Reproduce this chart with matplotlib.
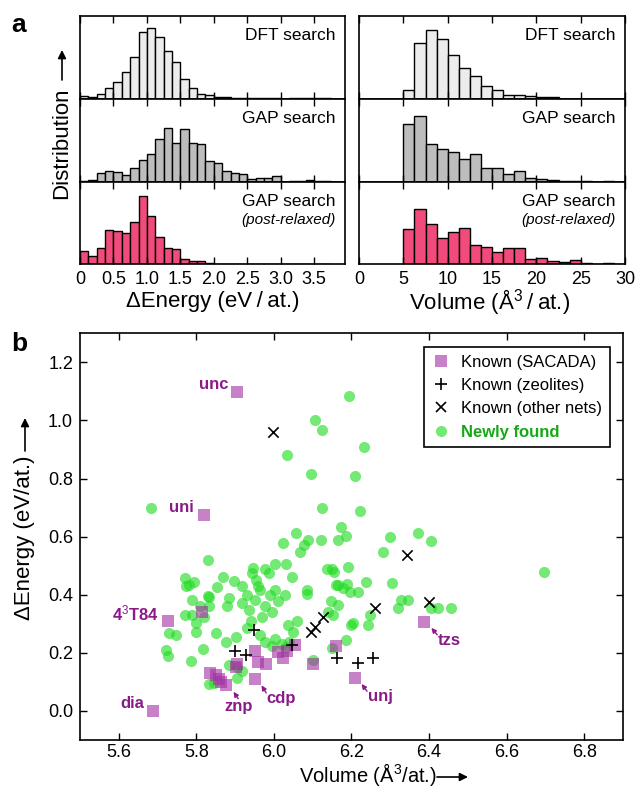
import numpy as np
import matplotlib
matplotlib.use('Agg')
import matplotlib.pyplot as plt
from matplotlib.lines import Line2D
from matplotlib.patches import FancyArrowPatch

plt.rcParams['font.family'] = ['Liberation Sans', 'DejaVu Sans']
plt.rcParams['mathtext.fontset'] = 'custom'
plt.rcParams['mathtext.rm'] = 'Liberation Sans'
plt.rcParams['mathtext.it'] = 'Liberation Sans:italic'
plt.rcParams['mathtext.bf'] = 'Liberation Sans:bold'

# ---------------- data ----------------
energy_bin_width = 0.125
energy_dft = [9, 4, 13, 31, 49, 81, 126, 200, 213, 184, 143, 111, 58, 31, 13, 11, 6, 4, 2, 1,
              1, 3, 3, 1, 0, 1, 2, 2, 1, 1]
energy_gap = [2, 5, 25, 32, 30, 20, 40, 65, 83, 127, 160, 115, 158, 117, 112, 62, 57, 32, 25, 22,
              8, 12, 10, 18, 0, 2, 2, 5, 2, 2]
energy_post = [41, 25, 48, 103, 101, 93, 128, 205, 146, 83, 48, 46, 16, 11, 11, 5, 2, 1, 1, 1,
               0, 1, 0, 1, 1, 0, 0, 0, 0, 0]

volume_start = 5.0
volume_bin_width = 1.25
volume_dft = [25, 167, 207, 180, 130, 92, 67, 39, 27, 12, 12, 7, 4, 5, 0, 0, 0, 0, 0, 0]
volume_gap = [172, 197, 112, 97, 88, 68, 83, 42, 40, 23, 32, 10, 7, 5, 3, 2, 1, 0, 1, 0]
volume_post = [105, 168, 121, 78, 98, 108, 58, 51, 38, 48, 48, 15, 18, 10, 7, 12, 4, 1, 4, 0]

row_titles = ["DFT search", "GAP search", "GAP search"]
energy_ticks = [0, 0.5, 1.0, 1.5, 2.0, 2.5, 3.0, 3.5]
energy_ticklabels = ["0", "0.5", "1.0", "1.5", "2.0", "2.5", "3.0", "3.5"]
volume_ticks = [0, 5, 10, 15, 20, 25, 30]

# scatter: (volume, dE)
sacada_vol = [5.905, 5.82, 5.728, 5.815, 5.689, 5.835, 5.85, 5.858, 5.863, 5.877, 5.901, 5.905,
              5.952, 5.958, 5.98, 5.951, 6.01, 6.024, 6.034, 6.055, 6.1, 6.159, 6.21, 6.386]
sacada_e = [1.099, 0.673, 0.308, 0.339, 0.0, 0.13, 0.125, 0.11, 0.10, 0.09, 0.153, 0.16,
            0.205, 0.168, 0.162, 0.11, 0.203, 0.182, 0.205, 0.228, 0.163, 0.224, 0.113, 0.305]

zeo_vol = [5.899, 5.927, 5.948, 6.046, 6.162, 6.217, 6.256]
zeo_e = [0.207, 0.193, 0.277, 0.228, 0.182, 0.164, 0.182]

other_vol = [5.997, 6.344, 6.401, 6.26, 6.127, 6.106, 6.095]
other_e = [0.96, 0.537, 0.374, 0.353, 0.324, 0.29, 0.273]

new_vol = [5.682, 6.105, 6.123, 6.033, 6.095, 6.125, 6.057, 6.023, 6.089, 6.078, 6.068, 6.121,
           5.831, 6.002, 6.031, 5.946, 5.978, 5.944, 5.988, 6.046, 6.138, 5.770, 5.794, 5.868,
           5.897, 5.854, 6.194, 6.233, 6.209, 6.222, 6.174, 6.187, 6.164, 6.298, 6.371, 6.405,
           6.281, 6.696, 6.149, 6.156, 6.192, 6.238, 6.305, 6.166, 6.188, 5.78, 5.833, 5.809,
           5.833, 5.79, 5.82, 5.884, 5.88, 5.918, 5.931, 5.952, 5.918, 5.935, 5.965, 5.978,
           5.995, 5.969, 6.004, 6.029, 5.73, 5.747, 5.722, 5.726, 5.786, 5.817, 5.798, 5.85,
           5.876, 5.901, 5.931, 5.965, 5.978, 6.004, 5.995, 6.05, 6.038, 5.845, 5.905, 5.884,
           5.918, 5.773, 5.79, 5.83, 5.77, 5.798, 5.833, 5.905, 6.085, 6.085, 6.161, 6.179,
           6.196, 6.217, 6.147, 6.166, 6.14, 6.153, 6.204, 6.243, 6.247, 6.32, 6.328, 6.345,
           6.405, 6.422, 6.457, 6.059, 6.037, 6.187, 6.102, 6.149, 6.2, 5.955, 5.96, 5.99,
           5.94, 6.01, 6.02, 6.03]
new_e = [0.70, 1.00, 0.966, 0.88, 0.815, 0.70, 0.613, 0.578, 0.59, 0.57, 0.548, 0.59,
         0.52, 0.507, 0.507, 0.493, 0.489, 0.475, 0.475, 0.461, 0.49, 0.456, 0.444, 0.461,
         0.446, 0.427, 1.084, 0.909, 0.808, 0.69, 0.633, 0.603, 0.59, 0.598, 0.613, 0.584,
         0.548, 0.48, 0.489, 0.478, 0.495, 0.444, 0.44, 0.434, 0.438, 0.434, 0.392, 0.36,
         0.36, 0.331, 0.325, 0.389, 0.36, 0.429, 0.40, 0.383, 0.371, 0.348, 0.416, 0.36,
         0.342, 0.325, 0.417, 0.40, 0.268, 0.262, 0.21, 0.19, 0.173, 0.212, 0.273, 0.268,
         0.239, 0.256, 0.285, 0.262, 0.239, 0.247, 0.222, 0.273, 0.239, 0.095, 0.113, 0.159,
         0.136, 0.429, 0.383, 0.394, 0.331, 0.302, 0.093, 0.153, 0.417, 0.403, 0.434, 0.423,
         0.411, 0.411, 0.377, 0.366, 0.342, 0.331, 0.302, 0.296, 0.331, 0.354, 0.383, 0.383,
         0.354, 0.354, 0.354, 0.308, 0.296, 0.245, 0.176, 0.216, 0.296, 0.45, 0.43, 0.40,
         0.31, 0.38, 0.23, 0.22]

labels = ["unc", "uni", "4$^{3}$T84", "dia", "znp", "cdp", "unj", "tzs"]
legend_labels = ["Known (SACADA)", "Known (zeolites)", "Known (other nets)", "Newly found"]

# ---------------- figure ----------------
W, H = 636, 789
fig = plt.figure(figsize=(W / 100, H / 100), dpi=100)


def ax_px(x0, y0, x1, y1):
    return fig.add_axes([x0 / W, 1 - y1 / H, (x1 - x0) / W, (y1 - y0) / H])


def fpx(x, y):
    return (x / W, 1 - y / H)


def fig_arrow(p0, p1):
    fig.patches.append(FancyArrowPatch(fpx(*p0), fpx(*p1), transform=fig.transFigure,
                                       arrowstyle='-|>', mutation_scale=12, color='black',
                                       linewidth=1.2, shrinkA=0, shrinkB=0))


colors = ['#ececec', '#bdbdbd', '#f04b7a']
row_edges = [15.7, 98.7, 181.7, 264.3]
tick_fs = 13

energy_sets = [energy_dft, energy_gap, energy_post]
volume_sets = [volume_dft, volume_gap, volume_post]

for r in range(3):
    for side in range(2):
        if side == 0:
            ax = ax_px(80, row_edges[r], 345, row_edges[r + 1])
            vals = energy_sets[r]
            lefts = np.arange(len(vals)) * energy_bin_width
            ax.bar(lefts, vals, width=energy_bin_width, align='edge', color=colors[r],
                   edgecolor='black', linewidth=1.0)
            ax.set_xlim(0, 3.96)
            ax.set_xticks(energy_ticks)
            ax.set_xticklabels(energy_ticklabels)
        else:
            ax = ax_px(359, row_edges[r], 625, row_edges[r + 1])
            vals = volume_sets[r]
            lefts = volume_start + np.arange(len(vals)) * volume_bin_width
            ax.bar(lefts, vals, width=volume_bin_width, align='edge', color=colors[r],
                   edgecolor='black', linewidth=1.0)
            ax.set_xlim(0, 30)
            ax.set_xticks(volume_ticks)
        ax.set_ylim(0, 249)
        ax.set_yticks([])
        ax.tick_params(axis='x', direction='in', top=True, bottom=True, length=5,
                       width=1.0, labelsize=tick_fs, pad=5)
        if r < 2:
            ax.tick_params(axis='x', labelbottom=False)
        for s in ax.spines.values():
            s.set_linewidth(1.2)
        ax.text(0.965, 0.76, row_titles[r], transform=ax.transAxes, ha='right', va='center',
                fontsize=12.5)
        if r == 2:
            ax.text(0.965, 0.54, "(post-relaxed)", transform=ax.transAxes, ha='right',
                    va='center', fontsize=11, style='italic')

fig.text(*fpx(213, 302), "\u0394Energy (eV\u2009/\u2009at.)", ha='center', va='center', fontsize=16)
fig.text(*fpx(490, 302), "Volume (\u00c5$^{3}$\u2009/\u2009at.)", ha='center', va='center',
         fontsize=16)
fig.text(*fpx(62, 143), "Distribution", rotation=90, ha='center', va='center', fontsize=16)
fig_arrow((62, 80), (62, 50))

fig.text(*fpx(19, 25), "a", ha='center', va='center', fontsize=19, fontweight='bold')
fig.text(*fpx(19, 344), "b", ha='center', va='center', fontsize=19, fontweight='bold')

# ---------------- scatter ----------------
ax = ax_px(80, 333.3, 623, 740)
green = '#20dc20'
purple = '#a32fa3'
ax.scatter(new_vol, new_e, s=64, color=green, alpha=0.62, linewidths=0, zorder=2)
ax.scatter(sacada_vol, sacada_e, s=75, marker='s', color=purple, alpha=0.6, linewidths=0,
           zorder=3)
ax.scatter(zeo_vol, zeo_e, s=75, marker='+', color='black', linewidths=1.2, zorder=4)
ax.scatter(other_vol, other_e, s=55, marker='x', color='black', linewidths=1.2, zorder=4)

ax.set_xlim(5.5, 6.9)
ax.set_ylim(-0.1, 1.3)
ax.set_xticks([5.6, 5.8, 6.0, 6.2, 6.4, 6.6, 6.8])
ax.set_yticks([0.0, 0.2, 0.4, 0.6, 0.8, 1.0, 1.2])
ax.set_yticklabels(["0.0", "0.2", "0.4", "0.6", "0.8", "1.0", "1.2"])
ax.tick_params(direction='in', top=True, right=True, length=5, width=1.0,
               labelsize=tick_fs, pad=5)
ax.tick_params(axis='x', pad=3)
for s in ax.spines.values():
    s.set_linewidth(1.2)

lab_col = '#8b1a89'
lab_kw = dict(color=lab_col, fontsize=12, fontweight='bold')
ax.text(5.884, 1.124, labels[0], ha='right', va='center', **lab_kw)
ax.text(5.794, 0.699, labels[1], ha='right', va='center', **lab_kw)
ax.text(5.704, 0.334, labels[2], ha='right', va='center', **lab_kw)
ax.text(5.666, 0.027, labels[3], ha='right', va='center', **lab_kw)
ax.text(5.909, 0.016, labels[4], ha='center', va='center', **lab_kw)
ax.text(5.981, 0.044, labels[5], ha='left', va='center', **lab_kw)
ax.text(6.243, 0.049, labels[6], ha='left', va='center', **lab_kw)
ax.text(6.422, 0.242, labels[7], ha='left', va='center', **lab_kw)

arr = dict(arrowstyle='-|>', color=lab_col, lw=1.0, mutation_scale=7, shrinkA=0, shrinkB=0)
arrow_tails = [(5.908, 0.042), (5.980, 0.062), (6.240, 0.068), (6.421, 0.262)]
arrow_heads = [(5.896, 0.066), (5.968, 0.088), (6.226, 0.093), (6.406, 0.286)]
for t, h in zip(arrow_tails, arrow_heads):
    ax.annotate('', xy=h, xytext=t, arrowprops=arr)

handles = [
    Line2D([], [], marker='s', linestyle='none', color=purple, alpha=0.6, markersize=8.5,
           markeredgewidth=0),
    Line2D([], [], marker='+', linestyle='none', color='black', markersize=9, markeredgewidth=1.2),
    Line2D([], [], marker='x', linestyle='none', color='black', markersize=7.5,
           markeredgewidth=1.2),
    Line2D([], [], marker='o', linestyle='none', color=green, alpha=0.62, markersize=8,
           markeredgewidth=0),
]
leg = ax.legend(handles, legend_labels, loc='upper right', bbox_to_anchor=(0.976, 0.966),
                borderaxespad=0, fontsize=12, frameon=True, fancybox=False, edgecolor='black',
                framealpha=1, handletextpad=0.6, labelspacing=0.5, borderpad=0.45,
                handlelength=1.2)
leg.get_frame().set_linewidth(1.2)
for t in leg.get_texts():
    if t.get_text() == "Newly found":
        t.set_color('#17a817')
        t.set_fontweight('bold')

fig.text(*fpx(368, 782), "Volume (\u00c5$^{3}$/at.)", ha='center', va='baseline', fontsize=14.5)
fig_arrow((437, 777), (468, 777))
fig.text(*fpx(25, 538), "\u0394Energy (eV/at.)", rotation=90, ha='center', va='center',
         fontsize=16)
fig_arrow((25, 451), (25, 418))

fig.savefig('out.png', dpi=100)
